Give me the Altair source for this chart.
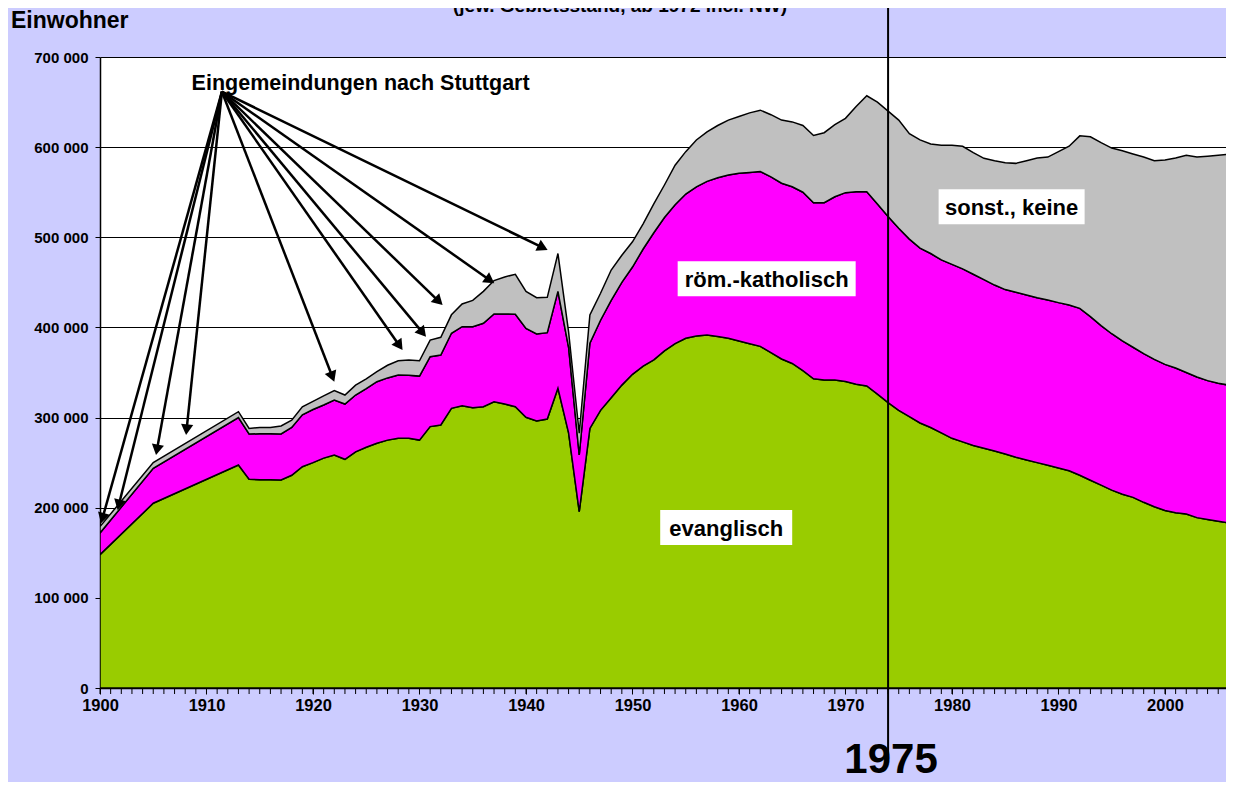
import math
import altair as alt
import pandas as pd

# ---------------- data (Einwohner in Tausend) ----------------
years = [1900, 1905] + list(range(1913, 2008))

evangelisch = [
    148, 205,
    247.4, 231.5, 231, 231, 230.8, 236, 245.5, 250, 255, 258.5,          # 1913-1922
    253.7, 262, 267, 271.5, 275, 277, 277, 275, 290, 291.8,               # 1923-1932
    310.3, 313.2, 311, 312, 317.6, 315, 312, 300.3, 296.2, 298.4,         # 1933-1942
    332.5, 283, 195.6, 288, 308, 322, 336, 348, 357, 364,                 # 1943-1952
    374, 382, 388, 390.5, 391.6, 390, 388, 385, 382, 379,                 # 1953-1962
    372, 365, 360, 352, 343, 341.7, 341.7, 340, 337, 335,                 # 1963-1972
    326, 316.5, 308, 301, 294, 289, 283, 277, 273, 269,                   # 1973-1982
    266, 263, 259.5, 256, 253, 250, 247, 244, 241, 236,                   # 1983-1992
    230.5, 225, 219.5, 215, 211.5, 206, 201, 197, 194.5, 193,             # 1993-2002
    189, 187, 185, 183, 181,                                              # 2003-2007
]
katholisch = [
    24, 38.7,
    52.6, 50.3, 51, 51, 51, 53, 57.5, 59, 59, 61,
    61.3, 63, 65, 68.3, 69, 70.2, 70, 71, 77.6, 77.6,
    83.2, 87.6, 89.8, 92.6, 97.3, 100, 102.6, 98.7, 96.5, 95.8,
    107.5, 95, 62.9, 94.4, 100, 108, 114, 119, 130, 141,
    148, 154, 160, 165.5, 170.4, 176, 181, 186, 190, 194,
    195, 195, 196, 198, 195.4, 196.7, 203.3, 209.5, 213.5, 215.6,
    211, 206.5, 202, 197, 194, 193, 192, 193, 192, 190,
    187, 184, 182.5, 183, 183, 183, 183.4, 183.5, 183.9, 185.2,
    181.5, 177, 173.5, 170, 166.5, 165, 163.5, 162, 160.5, 157,
    156, 154, 153, 153, 153,
]
sonstige = [
    7, 6.3,
    6.5, 6.2, 7, 7, 8.9, 8, 9, 9, 10, 10.5,
    10, 11, 11, 11.2, 14, 15.8, 17, 17, 18.4, 19.6,
    20.5, 25.2, 29.2, 35.4, 37.1, 41, 44.4, 41, 40.3, 39.2,
    42, 17, 24.1, 31.4, 29.9, 33.7, 30, 28, 28, 32,
    36, 44, 47, 52, 55, 58, 61, 63, 66, 68,
    69, 70, 72, 74, 74.6, 77.6, 80, 82.5, 94.5, 106.4,
    113, 117, 120, 117, 120, 121.5, 127, 132, 136, 135,
    134.6, 138, 140.8, 143, 149, 155, 158.6, 167.5, 176.1, 191.3,
    199.5, 203, 206, 211, 214.4, 218, 220.5, 226.8, 233, 241,
    244, 249, 253, 256, 258,
]

series_names = ["evanglisch", "röm.-katholisch", "sonst., keine"]
series_colors = ["#99CC00", "#FF00FF", "#C0C0C0"]

# axis ticks
decade_ticks = [1900, 1910, 1920, 1930, 1940, 1950, 1960, 1970, 1980, 1990, 2000]
year_ticks = list(range(1900, 2006))
value_ticks = [0, 100, 200, 300, 400, 500, 600, 700]

# series labels (centre in data units)
label_years = [1958.8, 1962.6, 1985.6]
label_values = [178, 454, 534]

# Eingemeindungen arrows (data units)
arrow_origin = (1911.45, 661.5)
arrow_tip_years = [1900.1, 1901.65, 1905.26, 1908.08, 1922.0, 1928.41, 1930.61, 1932.17, 1937.02, 1942.03]
arrow_tip_values = [182.7, 197.5, 258.5, 280.7, 339.8, 374.9, 389.7, 424.9, 449.0, 485.9]

marker_year = 1974.0

# ---------------- layout ----------------
W, H = 1126, 631
X_MIN, X_MAX = 1900, 2005.73
Y_MAX = 700
FONT = "Liberation Sans"

xs = alt.Scale(domain=[X_MIN, X_MAX], nice=False, zero=False)
ysc = alt.Scale(domain=[0, Y_MAX], nice=False)

rows = []
for i, yr in enumerate(years):
    for k, (name, vals) in enumerate(zip(series_names, [evangelisch, katholisch, sonstige])):
        rows.append({"Jahr": yr, "Gruppe": name, "Wert": vals[i], "ord": k})
df = pd.DataFrame(rows)

x_axis = alt.Axis(
    values=decade_ticks, format="d",
    labelOverlap=False, labelFlush=False,
    tickSize=6, tickColor="black", tickWidth=1,
    domainColor="black", domainWidth=1.5,
    labelFont=FONT, labelFontSize=16.5, labelFontWeight="bold", labelColor="black",
    labelPadding=3, grid=False, title=None,
)
y_axis = alt.Axis(
    values=value_ticks,
    labelExpr="datum.value == 0 ? '0' : format(datum.value, 'd') + ' 000'",
    tickSize=5, tickColor="black", tickWidth=1,
    domainColor="black", domainWidth=1.5,
    labelFont=FONT, labelFontSize=15, labelFontWeight="bold", labelColor="black",
    labelPadding=7, grid=True, gridColor="#000000", gridWidth=1, title=None,
)

areas = alt.Chart(df).mark_area(stroke="black", strokeWidth=1.5, clip=True, interpolate="linear").encode(
    x=alt.X("Jahr:Q", scale=xs, axis=x_axis),
    y=alt.Y("Wert:Q", stack="zero", scale=ysc, axis=y_axis),
    color=alt.Color("Gruppe:N", scale=alt.Scale(domain=series_names, range=series_colors), legend=None),
    order=alt.Order("ord:Q", sort="ascending"),
)

# yearly minor ticks on the x axis
minor_df = pd.DataFrame({"Jahr": year_ticks})
minor = alt.Chart(minor_df).mark_rule(color="black", strokeWidth=1, clip=False).encode(
    x=alt.X("Jahr:Q", scale=xs), y=alt.value(H), y2=alt.value(H + 6)
)

# 1975 marker line
marker_df = pd.DataFrame({"Jahr": [marker_year], "t": ["1975"]})
marker = alt.Chart(marker_df).mark_rule(color="black", strokeWidth=2, clip=False).encode(
    x=alt.X("Jahr:Q", scale=xs), y=alt.value(-49), y2=alt.value(698)
)
marker_text = alt.Chart(marker_df).mark_text(
    font=FONT, fontSize=42, fontWeight="bold", color="black", align="center",
    baseline="alphabetic", dx=3
).encode(x=alt.X("Jahr:Q", scale=xs), y=alt.value(716), text="t:N")

# series label boxes
box_widths = [132, 178, 146]
boxes = []
for i, name in enumerate(series_names):
    bdf = pd.DataFrame({"Jahr": [label_years[i]], "Wert": [label_values[i]], "t": [name]})
    boxes.append(alt.Chart(bdf).mark_rect(color="white", width=box_widths[i], height=35).encode(
        x=alt.X("Jahr:Q", scale=xs), y=alt.Y("Wert:Q", scale=ysc)))
    boxes.append(alt.Chart(bdf).mark_text(
        font=FONT, fontSize=22, fontWeight="bold", color="black", align="center", baseline="middle", dy=1
    ).encode(x=alt.X("Jahr:Q", scale=xs), y=alt.Y("Wert:Q", scale=ysc), text="t:N"))

# arrows
sx = W / (X_MAX - X_MIN)
sy = H / Y_MAX
head_size = 150
head_h = math.sqrt(head_size) / 2 * math.sqrt(3) / 2
arows = []
for tx, tv in zip(arrow_tip_years, arrow_tip_values):
    dxp = (tx - arrow_origin[0]) * sx
    dyp = -(tv - arrow_origin[1]) * sy
    L = math.hypot(dxp, dyp)
    ux, uy = dxp / L, dyp / L
    ang = math.degrees(math.atan2(ux, -uy)) % 360
    cx = tx - ux * head_h / sx
    cv = tv + uy * head_h / sy
    arows.append({"x0": arrow_origin[0], "y0": arrow_origin[1], "x1": cx, "y1": cv, "ang": ang})
adf = pd.DataFrame(arows)
arrow_lines = alt.Chart(adf).mark_rule(color="black", strokeWidth=2.5, clip=False).encode(
    x=alt.X("x0:Q", scale=xs), y=alt.Y("y0:Q", scale=ysc),
    x2="x1:Q", y2="y1:Q",
)
arrow_heads = alt.Chart(adf).mark_point(
    shape="triangle-up", filled=True, color="black", opacity=1, size=head_size, clip=False
).encode(
    x=alt.X("x1:Q", scale=xs), y=alt.Y("y1:Q", scale=ysc),
    angle=alt.Angle("ang:Q", scale=None),
)

annot_df = pd.DataFrame({"Jahr": [1908.6], "Wert": [663.4], "t": ["Eingemeindungen nach Stuttgart"]})
annot = alt.Chart(annot_df).mark_text(
    font=FONT, fontSize=21.5, fontWeight="bold", color="black", align="left", baseline="alphabetic"
).encode(x=alt.X("Jahr:Q", scale=xs), y=alt.Y("Wert:Q", scale=ysc), text="t:N")

top_df = pd.DataFrame({"t": ["Einwohner", "(jew. Gebietsstand, ab 1972 incl. NW)"]})
ylabel = alt.Chart(top_df.iloc[[0]]).mark_text(
    font=FONT, fontSize=23, fontWeight="bold", color="black", align="left", baseline="alphabetic"
).encode(x=alt.value(-89), y=alt.value(-29), text="t:N")
subtitle = alt.Chart(top_df.iloc[[1]]).mark_text(
    font=FONT, fontSize=19, fontWeight="bold", color="black", align="center", baseline="alphabetic"
).encode(x=alt.value(520), y=alt.value(-45), text="t:N")

chart = alt.layer(
    areas, minor, marker, *boxes, arrow_lines, arrow_heads, annot, marker_text, ylabel, subtitle
).properties(
    width=W, height=H,
    autosize=alt.AutoSizeParams(type="none"),
    padding={"left": 92, "top": 49, "right": 0, "bottom": 94},
    background="#CCCCFF",
).configure_view(fill="white", stroke=None)

chart.save("out.html", embed_options={"renderer": "svg", "actions": False})
